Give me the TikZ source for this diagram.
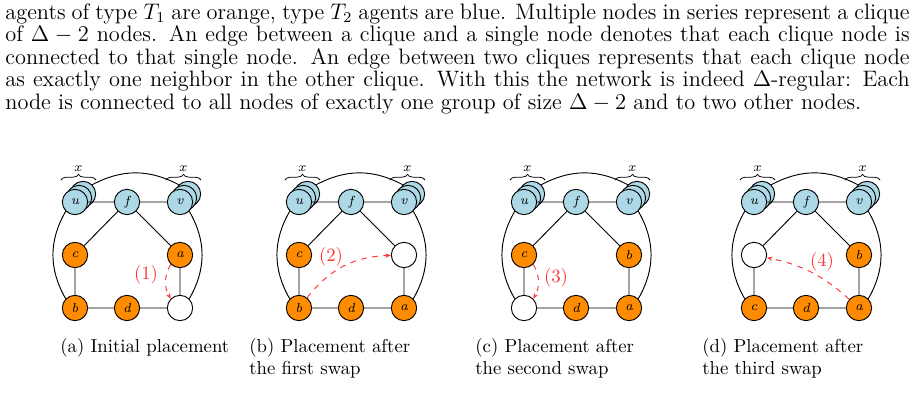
\documentclass[tikz,border=0pt]{standalone}
\usetikzlibrary{arrows.meta,decorations.pathreplacing}
\definecolor{org}{RGB}{255,140,0}
\definecolor{lb}{RGB}{173,216,230}
\definecolor{rd}{RGB}{255,50,50}
\begin{document}
\begin{tikzpicture}[x=0.533pt,y=-0.533pt,
  nd/.style={circle,draw,line width=0.5pt,minimum size=13.5pt,inner sep=0pt,font=\scriptsize\itshape},
  o/.style={nd,fill=org},
  b/.style={nd,fill=lb},
  w/.style={nd,fill=white},
  ed/.style={line width=0.5pt},
  sw/.style={rd,dashed,-{Stealth[length=3pt]},line width=0.5pt},
  lab/.style={rd,font=\normalsize},
  capt/.style={anchor=north west,align=left,font=\normalsize,inner sep=0pt}]
\useasboundingbox (0,0) rectangle (915,412);
\node[anchor=north west,inner sep=0pt,text width=482pt,align=justify,font=\fontsize{11.9}{12}\selectfont] (txt) at (5,3)
{agents of type $T_1$ are orange, type $T_2$ agents are blue. Multiple nodes in series represent a clique\linebreak
of $\Delta-2$ nodes. An edge between a clique and a single node denotes that each clique node is\linebreak
connected to that single node. An edge between two cliques represents that each clique node\linebreak
as exactly one neighbor in the other clique. With this the network is indeed $\Delta$-regular: Each\linebreak
node is connected to all nodes of exactly one group of size $\Delta-2$ and to two other nodes.\par};
\newcommand{\panel}[9]{%
\begin{scope}[xshift=#1*0.533pt]
 \node[b] (u3) at (83,194) {}; \node[b] (u2) at (79,198) {};
 \node[b] (v3) at (188,194) {}; \node[b] (v2) at (184,198) {};
 \node[b] (u) at (75,202) {u}; \node[b] (f) at (127,202) {f}; \node[b] (v) at (180,202) {v};
 \node[#2] (tl) at (75,255) {#3}; \node[#4] (tr) at (180,255) {#5};
 \node[#6] (bl) at (75,308) {#7}; \node[o] (bm) at (127,308) {d}; \node[#8] (br) at (180,308) {#9};
 \draw[ed] (u) -- (f) -- (v) (f) -- (tl) -- (bl) -- (bm) -- (br) -- (tr) -- (f);
 \draw[ed] (u3.north east) to[bend left=28] (v3.north west);
 \draw[ed] (u.south west) to[bend right=30] (bl.north west);
 \draw[ed] (v.south east) to[bend left=30] (br.north east);
 \draw[decorate,decoration={brace,amplitude=3pt}] (61,180) -- (96,180) node[midway,above=1pt,font=\scriptsize] (bx1) {$x$};
 \draw[decorate,decoration={brace,amplitude=3pt}] (166,180) -- (201,180) node[midway,above=1pt,font=\scriptsize] (bx2) {$x$};
\end{scope}}
% (a)
\panel{0}{o}{c}{o}{a}{o}{b}{w}{}
\draw[sw] (tr.south west) to[bend right=30] (br.north west);
\node[lab] (l1) at (146,275) {(1)};
\node[capt] (ca) at (60,338) {(a) Initial placement};
% (b)
\panel{224}{o}{c}{w}{}{o}{b}{o}{a}
\draw[sw] (bl) to[bend left=25] (tr);
\node[lab] (l2) at (331,257) {(2)};
\node[capt] (cb) at (249,338) {(b) Placement after\\the first swap};
% (c)
\panel{449}{o}{c}{o}{b}{w}{}{o}{a}
\draw[sw] (tl.south east) to[bend left=30] (bl.north east);
\node[lab] (l3) at (556,278) {(3)};
\node[capt] (cc) at (475,338) {(c) Placement after\\the second swap};
% (d)
\panel{679}{w}{}{o}{b}{o}{c}{o}{a}
\draw[sw] (br) to[bend right=15] (tl);
\node[lab] (l4) at (822,262) {(4)};
\node[capt] (cd) at (702,338) {(d) Placement after\\the third swap};
\end{tikzpicture}
\end{document}
